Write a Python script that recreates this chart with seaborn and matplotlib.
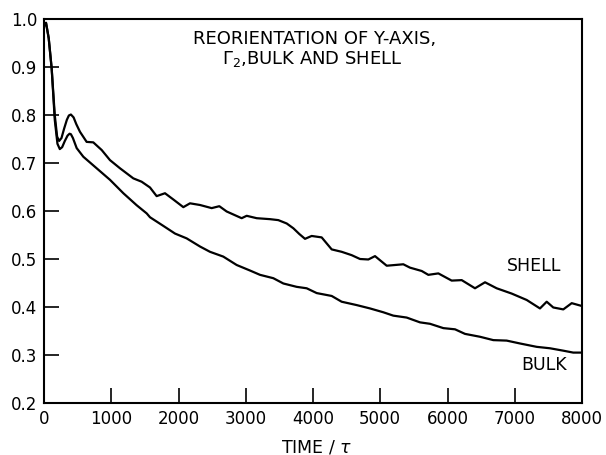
import matplotlib
matplotlib.use("Agg")
import matplotlib.pyplot as plt
import seaborn as sns
import pandas as pd

# Shell reorientation correlation
shell_t = [0, 30, 70, 114, 160, 195, 225, 260, 300, 340, 370, 400, 440, 480, 535, 634,
           733, 858, 981, 1130, 1328, 1452, 1576, 1675, 1799, 1923, 2072, 2171, 2320,
           2493, 2607, 2716, 2939, 3014, 3163, 3361, 3484, 3609, 3708, 3797, 3881, 3980,
           4129, 4278, 4426, 4575, 4699, 4823, 4922, 5096, 5343, 5442, 5617, 5715, 5864,
           6062, 6211, 6409, 6558, 6731, 6954, 7178, 7375, 7475, 7573, 7722, 7847, 8000]
shell_v = [0.985, 0.992, 0.96, 0.897, 0.80, 0.755, 0.746, 0.752, 0.772, 0.790, 0.799,
           0.801, 0.795, 0.781, 0.765, 0.744, 0.743, 0.727, 0.706, 0.689, 0.668, 0.661,
           0.649, 0.631, 0.637, 0.624, 0.608, 0.616, 0.6125, 0.606, 0.610, 0.599, 0.585,
           0.590, 0.585, 0.583, 0.581, 0.574, 0.564, 0.552, 0.542, 0.548, 0.545, 0.520,
           0.515, 0.508, 0.500, 0.499, 0.506, 0.486, 0.489, 0.482, 0.475, 0.467, 0.470,
           0.455, 0.456, 0.439, 0.4515, 0.439, 0.428, 0.4146, 0.397, 0.411, 0.399, 0.395,
           0.408, 0.402]

# Bulk reorientation correlation
bulk_t = [0, 30, 70, 114, 160, 200, 235, 270, 310, 350, 380, 400, 430, 486, 585, 783,
          981, 1180, 1378, 1527, 1576, 1774, 1948, 2121, 2320, 2468, 2666, 2865, 3063,
          3212, 3410, 3559, 3757, 3906, 4055, 4278, 4426, 4649, 4848, 5046, 5194, 5393,
          5591, 5740, 5938, 6112, 6260, 6483, 6681, 6880, 7078, 7326, 7524, 7722, 7870,
          8000]
bulk_v = [0.985, 0.992, 0.96, 0.897, 0.79, 0.740, 0.729, 0.733, 0.746, 0.757, 0.761,
          0.760, 0.752, 0.731, 0.713, 0.689, 0.665, 0.637, 0.612, 0.595, 0.587, 0.569,
          0.553, 0.543, 0.526, 0.515, 0.505, 0.4875, 0.476, 0.467, 0.460, 0.449, 0.442,
          0.439, 0.429, 0.423, 0.411, 0.404, 0.397, 0.389, 0.382, 0.378, 0.368, 0.365,
          0.356, 0.3535, 0.344, 0.338, 0.331, 0.330, 0.324, 0.317, 0.314, 0.309, 0.305,
          0.305]

x_ticks = [0, 1000, 2000, 3000, 4000, 5000, 6000, 7000, 8000]
y_ticks = [0.2, 0.3, 0.4, 0.5, 0.6, 0.7, 0.8, 0.9, 1.0]
y_tick_labels = ["0.2", "0.3", "0.4", "0.5", "0.6", "0.7", "0.8", "0.9", "1.0"]

df = pd.concat([
    pd.DataFrame({"t": shell_t, "v": shell_v, "series": "SHELL"}),
    pd.DataFrame({"t": bulk_t, "v": bulk_v, "series": "BULK"}),
])

sns.set_style("white")
plt.rcParams["font.family"] = ["DejaVu Sans"]
plt.rcParams["text.color"] = "black"
plt.rcParams["axes.labelcolor"] = "black"

fig = plt.figure(figsize=(6.06, 4.55), dpi=100)
ax = fig.add_axes([44 / 606, 1 - 403 / 455, 538 / 606, 384 / 455])

sns.lineplot(data=df, x="t", y="v", units="series", estimator=None, color="black",
             linewidth=1.6, ax=ax, legend=False, sort=False)

ax.set_xlim(0, 8000)
ax.set_ylim(0.2, 1.0)
ax.set_xticks(x_ticks)
ax.set_xticklabels([str(v) for v in x_ticks])
ax.set_yticks(y_ticks)
ax.set_yticklabels(y_tick_labels)
ax.tick_params(direction="in", length=11, width=1.2, labelsize=12, colors="black",
               top=False, right=False, left=True, bottom=True, pad=5)
for s in ax.spines.values():
    s.set_color("black")
    s.set_linewidth(1.5)

ax.set_xlabel("")
ax.set_ylabel("")
fig.text(317 / 606, 1 - 447 / 455, "TIME / $\\tau$", ha="center", va="center",
         fontsize=12.5)

ax.text((315 - 44) / 538, 0.948, "REORIENTATION OF Y-AXIS,",
        transform=ax.transAxes, ha="center", va="center", fontsize=13)
ax.text((312 - 44) / 538, 0.896, "$\\mathit{\\Gamma}_2$,BULK AND SHELL",
        transform=ax.transAxes, ha="center", va="center", fontsize=13)
ax.text(6885, 0.485, "SHELL", ha="left", va="center", fontsize=12.5)
ax.text(7090, 0.279, "BULK", ha="left", va="center", fontsize=12.5)

fig.savefig("out.png", dpi=100)
